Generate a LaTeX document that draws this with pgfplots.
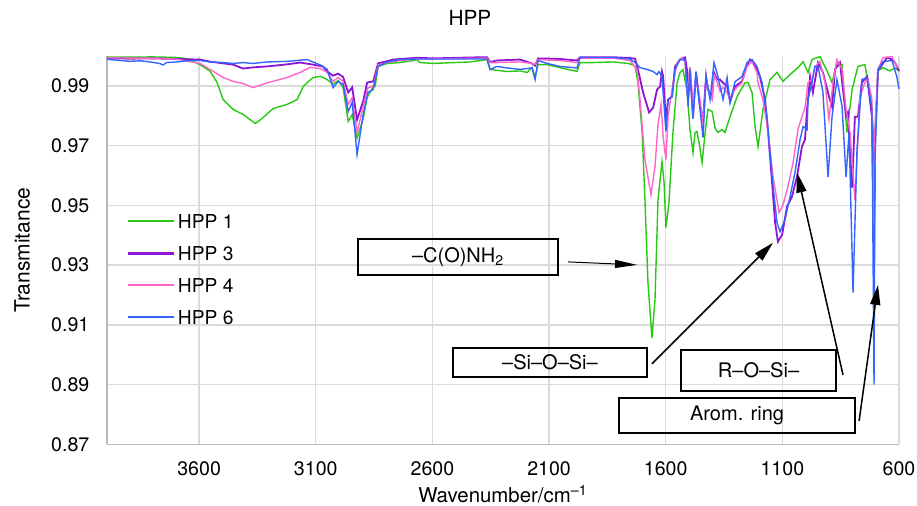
\documentclass[border=0pt]{standalone}
\usepackage{fontspec}
\setmainfont{TeX Gyre Heros}
\usepackage{pgfplots}
\pgfplotsset{compat=1.18}
\usetikzlibrary{arrows.meta}
\definecolor{cg}{RGB}{40,200,20}
\definecolor{cp}{RGB}{140,20,210}
\definecolor{ck}{RGB}{255,100,200}
\definecolor{cb}{RGB}{50,100,255}
\newcommand{\f}{\fontsize{10}{12}\selectfont}
\begin{document}
\f
\begin{tikzpicture}[font=\f]
\useasboundingbox (-53.5pt,-30.75pt) rectangle (405pt,222.25pt);
\begin{axis}[
  scale only axis, width=396pt, height=194.25pt,
  x dir=reverse, xmin=600, xmax=3995, ymin=0.87, ymax=1.0,
  xtick={600,1100,1600,2100,2600,3100,3600},
  ytick={0.87,0.89,0.91,0.93,0.95,0.97,0.99},
  scaled ticks=false,
  tick label style={font=\fontsize{9.8}{11}\selectfont},
  /pgf/number format/assume math mode=true,
  xticklabel style={/pgf/number format/1000 sep={}, yshift=-5pt},
  yticklabel style={/pgf/number format/.cd, fixed, precision=2, fixed zerofill, /tikz/.cd, xshift=-5.3pt},
  grid=major, major grid style={draw=gray!28, line width=0.7pt},
  axis x line*=bottom, axis y line*=left,
  axis line style={draw=gray!55, line width=0.8pt, -},
  tick style={draw=none},
  clip=false,
  xlabel={Wavenumber/cm\textsuperscript{–1}},
  ylabel={Transmitance},
  xlabel style={at={(axis description cs:0.5,-0.1274)}, anchor=center, font=\fontsize{10.2}{12}\selectfont},
  ylabel style={at={(axis description cs:-0.1073,0.5)}, anchor=center, font=\fontsize{10.5}{12}\selectfont},
  title={HPP},
  every axis title/.style={at={(axis description cs:0.4583,1.0978)}, anchor=center, font=\fontsize{10.4}{12}\selectfont},
  legend cell align=left,
  legend style={draw=none, fill=none, inner sep=0pt, row sep=6pt,
    font=\fontsize{9.6}{11}\selectfont,
    at={(axis description cs:0.024,0.601)}, anchor=north west,
    nodes={inner sep=1.5pt, text height=7pt, text depth=0pt}},
  legend image code/.code={\draw[#1] plot coordinates {(0pt,0pt) (23pt,0pt)};},
]
\addplot[color=cg, line width=0.7pt, legend image post style={draw=cg, line width=1pt}] table {
3995 0.9996
3900 0.9996
3800 0.9997
3694 0.9995
3660 0.9992
3639 0.9988
3596 0.9971
3553 0.9949
3523 0.9911
3497 0.9854
3454 0.9821
3411 0.9804
3369 0.9780
3360 0.9774
3340 0.9785
3326 0.9794
3283 0.9824
3223 0.9838
3180 0.9854
3154 0.9898
3124 0.9920
3111 0.9928
3081 0.9932
3051 0.9921
3026 0.9906
3004 0.9918
2983 0.9895
2961 0.9781
2944 0.9804
2923 0.9725
2897 0.9790
2880 0.9861
2859 0.9890
2845 0.9900
2833 0.9965
2794 0.9975
2739 0.9978
2666 0.9987
2653 0.9978
2597 0.9975
2537 0.9977
2439 0.9980
2366 0.9988
2353 0.9955
2323 0.9952
2280 0.9948
2224 0.9950
2194 0.9945
2173 0.9962
2160 0.9930
2147 0.9971
2109 0.9971
2053 0.9961
1990 0.9950
1980 0.9949
1967 0.9978
1911 0.9978
1826 0.9980
1760 0.9975
1740 0.9970
1731 0.9965
1719 0.9911
1701 0.9744
1689 0.9519
1676 0.9241
1659 0.9057
1646 0.9184
1633 0.9519
1616 0.9646
1607 0.9576
1599 0.9426
1586 0.9509
1569 0.9744
1551 0.9911
1539 0.9944
1526 0.9954
1509 0.9887
1496 0.9754
1483 0.9677
1474 0.9744
1466 0.9747
1457 0.9710
1444 0.9643
1431 0.9744
1419 0.9821
1401 0.9814
1389 0.9760
1376 0.9744
1359 0.9754
1346 0.9744
1324 0.9797
1294 0.9864
1260 0.9911
1247 0.9911
1230 0.9878
1217 0.9764
1204 0.9697
1183 0.9821
1153 0.9921
1123 0.9945
1097 0.9915
1067 0.9938
1033 0.9961
1011 0.9981
990 0.9945
973 0.9988
939 0.9998
909 0.9951
887 0.9911
866 0.9978
844 0.9971
823 0.9744
801 0.9888
776 0.9965
746 0.9971
716 0.9831
711 0.9750
707 0.9291
703 0.9750
690 0.9950
669 0.9961
640 0.9950
617 0.9960
609 0.9955
600 0.9950
};
\addlegendentry{HPP 1}
\addplot[color=cp, line width=0.9pt, legend image post style={draw=cp, line width=1.3pt}] table {
3995 0.9993
3900 0.9991
3800 0.9992
3700 0.9990
3596 0.9988
3553 0.9981
3454 0.9971
3411 0.9958
3369 0.9962
3309 0.9965
3223 0.9972
3167 0.9978
3111 0.9971
3069 0.9965
3051 0.9948
3026 0.9934
3004 0.9941
2983 0.9930
2961 0.9878
2944 0.9895
2923 0.9787
2897 0.9848
2880 0.9911
2854 0.9915
2833 0.9975
2769 0.9988
2666 0.9994
2597 0.9992
2439 0.9995
2366 0.9996
2353 0.9980
2323 0.9985
2224 0.9988
2173 0.9975
2160 0.9968
2147 0.9992
2053 0.9990
1980 0.9985
1967 0.9996
1826 0.9996
1753 0.9993
1731 0.9991
1719 0.9955
1697 0.9878
1671 0.9811
1654 0.9827
1637 0.9888
1624 0.9898
1616 0.9948
1611 0.9931
1599 0.9780
1590 0.9854
1573 0.9864
1560 0.9965
1539 0.9988
1517 0.9995
1509 0.9955
1504 0.9854
1496 0.9961
1483 0.9797
1470 0.9945
1453 0.9831
1440 0.9787
1427 0.9931
1419 0.9888
1401 0.9864
1393 0.9945
1380 0.9921
1367 0.9921
1354 0.9910
1337 0.9900
1324 0.9847
1303 0.9898
1273 0.9915
1251 0.9971
1239 0.9988
1226 0.9978
1209 0.9955
1196 0.9931
1174 0.9854
1161 0.9744
1144 0.9576
1131 0.9442
1119 0.9379
1101 0.9402
1080 0.9496
1059 0.9529
1037 0.9597
1016 0.9697
1003 0.9720
994 0.9821
981 0.9931
969 0.9878
947 0.9978
926 0.9945
900 0.9864
887 0.9831
874 0.9955
853 0.9978
840 0.9888
827 0.9797
819 0.9811
801 0.9560
789 0.9797
776 0.9797
759 0.9911
737 0.9931
716 0.9797
707 0.9330
703 0.9700
690 0.9955
681 0.9961
651 0.9995
630 0.9988
617 0.9978
609 0.9965
600 0.9950
};
\addlegendentry{HPP 3}
\addplot[color=ck, line width=0.7pt, legend image post style={draw=ck, line width=1pt}] table {
3995 0.9994
3900 0.9993
3800 0.9992
3700 0.9990
3596 0.9975
3553 0.9955
3497 0.9928
3454 0.9915
3411 0.9908
3369 0.9894
3309 0.9910
3223 0.9928
3167 0.9945
3124 0.9962
3081 0.9958
3051 0.9945
3026 0.9915
3004 0.9928
2983 0.9915
2961 0.9838
2944 0.9860
2923 0.9744
2897 0.9831
2876 0.9894
2854 0.9898
2833 0.9970
2794 0.9978
2739 0.9985
2666 0.9990
2597 0.9990
2439 0.9992
2366 0.9993
2353 0.9978
2323 0.9978
2224 0.9980
2173 0.9975
2160 0.9972
2147 0.9988
2053 0.9985
1980 0.9978
1967 0.9992
1826 0.9993
1753 0.9985
1723 0.9955
1710 0.9854
1689 0.9653
1663 0.9536
1646 0.9630
1633 0.9770
1620 0.9838
1611 0.9730
1599 0.9653
1590 0.9797
1573 0.9888
1551 0.9978
1530 0.9995
1517 0.9978
1509 0.9878
1496 0.9961
1483 0.9831
1470 0.9931
1453 0.9854
1440 0.9777
1427 0.9921
1419 0.9888
1401 0.9854
1393 0.9938
1380 0.9914
1367 0.9881
1354 0.9895
1324 0.9860
1303 0.9888
1273 0.9911
1251 0.9965
1230 0.9981
1209 0.9945
1204 0.9910
1183 0.9854
1161 0.9744
1140 0.9596
1114 0.9476
1097 0.9502
1076 0.9563
1054 0.9643
1033 0.9754
1016 0.9797
1003 0.9827
990 0.9911
973 0.9921
960 0.9965
939 0.9981
917 0.9911
900 0.9787
883 0.9911
866 0.9988
844 0.9955
827 0.9821
810 0.9744
789 0.9519
767 0.9864
746 0.9911
733 0.9925
716 0.9854
707 0.9360
703 0.9750
690 0.9955
669 0.9994
630 0.9998
609 0.9965
600 0.9960
};
\addlegendentry{HPP 4}
\addplot[color=cb, line width=0.7pt, legend image post style={draw=cb, line width=1pt}] table {
3995 0.9990
3981 0.9988
3939 0.9985
3896 0.9982
3853 0.9984
3810 0.9980
3770 0.9975
3754 0.9970
3740 0.9978
3700 0.9980
3639 0.9985
3596 0.9985
3553 0.9980
3497 0.9978
3454 0.9975
3411 0.9978
3369 0.9975
3309 0.9980
3223 0.9982
3137 0.9988
3081 0.9970
3051 0.9955
3026 0.9894
3004 0.9915
2983 0.9905
2961 0.9814
2944 0.9845
2923 0.9670
2897 0.9804
2876 0.9878
2854 0.9888
2833 0.9965
2794 0.9980
2739 0.9988
2666 0.9990
2597 0.9990
2439 0.9990
2366 0.9990
2353 0.9955
2323 0.9965
2280 0.9960
2224 0.9955
2194 0.9958
2173 0.9960
2160 0.9921
2147 0.9985
2109 0.9975
2053 0.9965
1980 0.9960
1967 0.9995
1826 0.9995
1753 0.9990
1731 0.9978
1710 0.9961
1680 0.9955
1654 0.9948
1637 0.9938
1629 0.9948
1616 0.9931
1599 0.9747
1590 0.9854
1573 0.9864
1560 0.9955
1539 0.9988
1517 0.9988
1504 0.9831
1496 0.9955
1483 0.9790
1470 0.9948
1453 0.9821
1440 0.9727
1427 0.9931
1410 0.9854
1393 0.9978
1376 0.9931
1354 0.9854
1337 0.9928
1324 0.9844
1303 0.9914
1273 0.9931
1251 0.9978
1230 0.9988
1209 0.9965
1187 0.9911
1166 0.9797
1144 0.9596
1123 0.9442
1110 0.9412
1089 0.9452
1067 0.9529
1046 0.9610
1024 0.9720
1011 0.9764
994 0.9754
990 0.9854
973 0.9911
960 0.9965
947 0.9965
926 0.9878
904 0.9595
887 0.9797
866 0.9921
844 0.9831
827 0.9595
814 0.9744
797 0.9208
780 0.9687
759 0.9921
737 0.9928
716 0.9821
707 0.8900
703 0.9650
690 0.9954
669 0.9981
630 0.9985
609 0.9930
600 0.9890
};
\addlegendentry{HPP 6}
% annotations
\node[draw, line width=0.75pt, minimum width=100pt, minimum height=18pt, inner sep=0pt] at (axis cs:2490,0.9328) {–C(O)NH\textsubscript{2}};
\draw[line width=0.5pt, -{Triangle[length=11pt,width=4pt]}] (axis cs:2019,0.9311) -- (axis cs:1723,0.9301);
\node[draw, line width=0.75pt, minimum width=97pt, minimum height=14.5pt, inner sep=0pt] at (axis cs:2096,0.8975) {–Si–O–Si–};
\draw[line width=0.75pt, -{Triangle[length=10pt,width=5pt]}] (axis cs:1659,0.8970) -- (axis cs:1140,0.9375);
\node[draw, line width=0.75pt, minimum width=77.5pt, minimum height=20.5pt, inner sep=0pt] at (axis cs:1202,0.8948) {R–O–Si–};
\draw[line width=0.75pt, -{Triangle[length=10pt,width=5pt]}] (axis cs:840,0.8933) -- (axis cs:1037,0.9610);
\node[draw, line width=0.75pt, minimum width=118pt, minimum height=17.5pt, inner sep=0pt] at (axis cs:1294,0.8797) {Arom. ring};
\draw[line width=0.75pt, -{Triangle[length=10pt,width=5pt]}] (axis cs:771,0.8779) -- (axis cs:690,0.9234);
\end{axis}
\end{tikzpicture}
\end{document}
